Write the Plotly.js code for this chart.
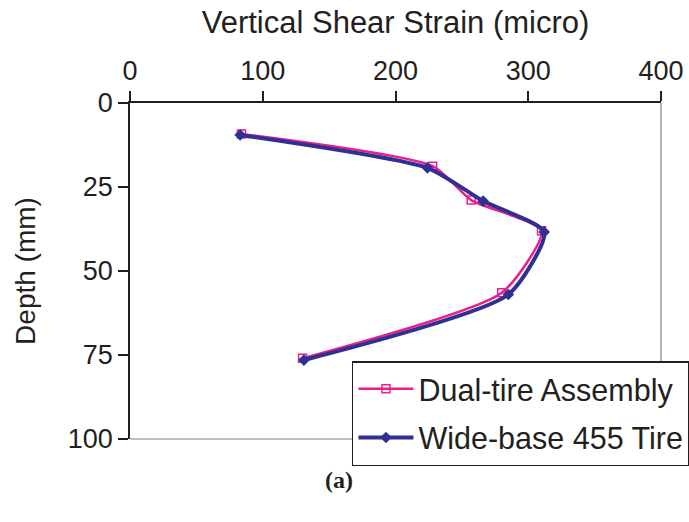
<!DOCTYPE html>
<html>
<head>
<meta charset="utf-8">
<script src="https://cdn.plot.ly/plotly-3.0.1.min.js"></script>
<style>body{margin:0;background:#fff}#chart{width:689px;height:522px}</style>
</head>
<body>
<div id="chart"></div>
<script>
const depthDual = [9.2, 18.8, 28.9, 38.0, 56.5, 76.0];
const strainDual = [84, 228, 257, 310, 280, 130];
const depthWide = [9.5, 19.3, 29.2, 38.4, 57.0, 76.5];
const strainWide = [83, 224, 266, 312, 285, 131];
const seriesNames = ['Dual-tire Assembly', 'Wide-base 455 Tire'];
const xTicks = [0, 100, 200, 300, 400];
const yTicks = [0, 25, 50, 75, 100];

const font = 'Liberation Sans, Arial, sans-serif';
const traces = [
  {x: strainDual, y: depthDual, name: seriesNames[0], legendgroup: 'a', type: 'scatter', mode: 'lines+markers',
   line: {color: '#ec1e8c', width: 2.5, shape: 'spline', smoothing: 0.6},
   marker: {symbol: 'square-open', size: 8, color: '#ec1e8c', line: {width: 1.5, color: '#ec1e8c'}}},
  {x: strainWide, y: depthWide, name: seriesNames[1], legendgroup: 'b', type: 'scatter', mode: 'lines+markers',
   line: {color: '#2e3192', width: 4, shape: 'spline', smoothing: 0.6},
   marker: {symbol: 'diamond', size: 9, color: '#2e3192'}}
];
const layout = {
  width: 689, height: 522,
  margin: {l: 130, r: 28, t: 103, b: 83, autoexpand: false},
  paper_bgcolor: '#fff', plot_bgcolor: '#fff',
  font: {family: font, color: '#231f20', size: 27},
  showlegend: true,
  legend: {x: 0.418, y: 0.232, xanchor: 'left', yanchor: 'top', bgcolor: '#fff',
           bordercolor: '#231f20', borderwidth: 1.5, font: {size: 30.5, family: font, color: '#231f20'},
           itemwidth: 55, tracegroupgap: 6, traceorder: 'grouped'},
  xaxis: {side: 'top', range: [0, 400], tickvals: xTicks, ticktext: xTicks.map(String),
          showgrid: false, zeroline: false, showline: true, linecolor: '#231f20', linewidth: 1.5,
          ticks: 'outside', ticklen: 10, tickcolor: '#231f20', tickwidth: 1.5,
          title: {text: 'Vertical Shear Strain (micro)', font: {size: 31}, standoff: 14},
          tickfont: {size: 27}},
  yaxis: {range: [100, 0], tickvals: yTicks, ticktext: yTicks.map(String),
          showgrid: false, zeroline: false, showline: true, linecolor: '#231f20', linewidth: 1.5,
          ticks: 'outside', ticklen: 10, tickcolor: '#231f20', tickwidth: 1.5,
          title: {text: 'Depth (mm)', font: {size: 28}, standoff: 24},
          tickfont: {size: 27}},
  shapes: [
    {type: 'line', xref: 'paper', yref: 'paper', x0: 1, x1: 1, y0: 0, y1: 1, line: {color: '#808080', width: 1.2}},
    {type: 'line', xref: 'paper', yref: 'paper', x0: 0, x1: 1, y0: 0, y1: 0, line: {color: '#808080', width: 1.2}}
  ],
  annotations: [
    {text: '<b>(a)</b>', xref: 'paper', yref: 'paper', x: 0.393, y: -0.122, xanchor: 'center', yanchor: 'middle',
     showarrow: false, font: {family: 'Liberation Serif, Times New Roman, serif', size: 24, color: '#231f20'}}
  ]
};
Plotly.newPlot('chart', traces, layout, {displayModeBar: false});
</script>
</body>
</html>
